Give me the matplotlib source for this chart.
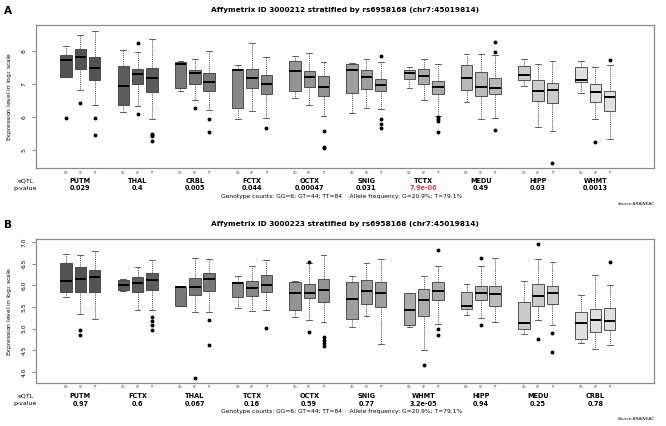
import matplotlib
matplotlib.use("Agg")
import matplotlib.pyplot as plt
from matplotlib.transforms import blended_transform_factory

W, H = 666, 426

genotypes = ["GG", "GT", "TT"]

# ---------------- Panel A data ----------------
tissues_a = ["PUTM", "THAL", "CRBL", "FCTX", "OCTX", "SNIG", "TCTX", "MEDU", "HIPP", "WHMT"]
pvals_a = ["0.029", "0.4", "0.005", "0.044", "0.00047", "0.031", "7.9e-06", "0.49", "0.03", "0.0013"]
whislo_a = [7.22, 6.84, 6.36, 6.15, 6.33, 5.93, 6.80, 6.51, 6.23, 5.94, 6.18, 5.98, 6.58, 6.38, 6.04,
            6.13, 6.29, 6.26, 6.88, 6.51, 6.02, 6.46, 5.93, 5.98, 6.95, 5.70, 5.58, 6.72, 5.94, 5.33]
q1_a = [7.22, 7.45, 7.12, 6.38, 7.00, 6.77, 6.88, 7.01, 6.80, 6.28, 6.89, 6.70, 6.78, 6.93, 6.63,
        6.72, 6.87, 6.78, 7.15, 7.01, 6.69, 6.81, 6.63, 6.70, 7.13, 6.50, 6.42, 7.06, 6.46, 6.20]
med_a = [7.75, 7.83, 7.50, 6.96, 7.30, 7.19, 7.63, 7.34, 7.07, 7.42, 7.19, 7.01, 7.40, 7.23, 6.92,
         7.44, 7.23, 6.99, 7.34, 7.25, 6.93, 7.20, 6.91, 6.89, 7.29, 6.79, 6.82, 7.14, 6.76, 6.62]
q3_a = [7.90, 8.08, 7.83, 7.56, 7.46, 7.50, 7.68, 7.44, 7.34, 7.45, 7.45, 7.27, 7.72, 7.41, 7.25,
        7.62, 7.44, 7.17, 7.44, 7.47, 7.11, 7.59, 7.36, 7.20, 7.54, 7.14, 7.05, 7.52, 7.00, 6.80]
whishi_a = [8.17, 8.49, 8.63, 8.05, 7.98, 8.36, 7.70, 7.76, 8.01, 7.58, 8.25, 7.83, 7.86, 7.94, 7.67,
            7.65, 7.78, 7.68, 7.52, 7.78, 7.60, 7.93, 7.92, 7.89, 7.77, 7.63, 7.71, 7.71, 7.52, 7.57]
fliers_a = [[5.96], [6.43], [5.98, 5.45],
            [], [8.25, 6.09], [5.49, 5.45, 5.42, 5.28],
            [], [6.28], [5.93, 5.56],
            [], [], [5.68],
            [], [], [5.59, 5.10, 5.06],
            [], [], [7.86, 5.94, 5.80, 5.68],
            [], [], [5.99, 5.94, 5.88, 5.54],
            [], [], [8.28, 7.98, 5.60],
            [], [], [4.60],
            [], [5.25], [7.75]]

# ---------------- Panel B data ----------------
tissues_b = ["PUTM", "FCTX", "THAL", "TCTX", "OCTX", "SNIG", "WHMT", "HIPP", "MEDU", "CRBL"]
pvals_b = ["0.97", "0.6", "0.067", "0.16", "0.59", "0.77", "3.2e-05", "0.94", "0.25", "0.78"]
whislo_b = [5.74, 5.33, 5.22, 5.88, 5.43, 5.42, 5.52, 5.39, 5.38, 5.48, 5.41, 5.44, 5.27, 5.21, 5.15,
            5.04, 5.29, 4.65, 5.03, 4.50, 5.11, 5.32, 5.25, 5.15, 4.88, 5.21, 5.08, 4.68, 4.52, 4.62]
q1_b = [5.84, 5.84, 5.85, 5.90, 5.85, 5.89, 5.52, 5.78, 5.86, 5.73, 5.75, 5.85, 5.42, 5.70, 5.62,
        5.22, 5.58, 5.50, 5.08, 5.30, 5.65, 5.45, 5.66, 5.52, 4.99, 5.53, 5.56, 4.75, 4.92, 4.96]
med_b = [6.11, 6.14, 6.20, 6.01, 6.05, 6.12, 5.96, 5.97, 6.15, 6.06, 5.95, 6.01, 5.83, 5.82, 5.90,
         5.68, 5.88, 5.82, 5.43, 5.65, 5.88, 5.52, 5.82, 5.81, 5.12, 5.75, 5.83, 5.13, 5.19, 5.18]
q3_b = [6.52, 6.42, 6.35, 6.12, 6.20, 6.29, 5.96, 6.17, 6.28, 6.07, 6.09, 6.25, 6.07, 6.04, 6.15,
        6.08, 6.12, 6.08, 5.82, 5.92, 6.08, 5.85, 5.99, 5.98, 5.62, 6.02, 5.98, 5.39, 5.46, 5.48]
whishi_b = [6.72, 6.69, 6.79, 6.15, 6.43, 6.58, 5.96, 6.63, 6.60, 6.21, 6.45, 6.58, 6.09, 6.52, 6.71,
            6.21, 6.51, 6.60, 5.82, 6.22, 6.44, 6.04, 6.44, 6.62, 6.09, 6.60, 6.55, 5.78, 6.23, 6.00]
fliers_b = [[], [4.98, 4.86], [],
            [], [], [5.28, 5.18, 5.08, 4.97],
            [], [3.87], [5.19, 4.62],
            [], [], [5.02],
            [], [6.55, 4.93], [4.80, 4.73, 4.66, 4.59],
            [], [], [],
            [], [4.15], [6.81, 4.99, 4.85],
            [], [6.63, 5.09], [],
            [], [6.95, 4.75], [4.91, 4.45],
            [], [], [6.54]]

yticks_a = [5, 6, 7, 8]
yticks_b = [4.0, 4.5, 5.0, 5.5, 6.0, 6.5, 7.0]
title_a = "Affymetrix ID 3000212 stratified by rs6958168 (chr7:45019814)"
title_b = "Affymetrix ID 3000223 stratified by rs6958168 (chr7:45019814)"
counts_text = "Genotype counts: GG=6; GT=44; TT=84    Allele frequency: G=20.9%; T=79.1%"

# style
gray_levels = [0.33, 0.36, 0.47, 0.53, 0.58, 0.62, 0.67, 0.73, 0.80, 0.88]

fig = plt.figure(figsize=(W / 100, H / 100), dpi=100)


def fx(x):
    return x / W


def fy(y):
    return 1 - y / H


def panel(ax, tissues, pvals, wlo, q1, med, q3, whi, fl, ylim, yticks, ytl,
          title, letter, ytop, ybot, red_idx=None):
    stats = []
    for k in range(len(med)):
        stats.append(dict(whislo=wlo[k], q1=q1[k], med=med[k], q3=q3[k],
                          whishi=whi[k], fliers=fl[k]))
    pos = [4 * i + j + 1 for i in range(len(tissues)) for j in range(3)]
    bp = ax.bxp(stats, positions=pos, widths=0.8, capwidths=0.4,
                patch_artist=True, manage_ticks=False,
                boxprops=dict(edgecolor="#3a3a3a", linewidth=0.6),
                medianprops=dict(color="black", linewidth=1.4),
                whiskerprops=dict(color="#555555", linewidth=0.6, linestyle=(0, (1.5, 1.0))),
                capprops=dict(color="#444444", linewidth=0.6),
                flierprops=dict(marker="o", markerfacecolor="black",
                                markeredgecolor="black", markersize=1.8, linestyle="none"))
    for k, b in enumerate(bp["boxes"]):
        g = gray_levels[k // 3]
        b.set_facecolor((g, g, g))
    ax.set_xlim(-1.1, 42.1)
    ax.set_ylim(*ylim)
    ax.set_xticks([])
    ax.set_yticks(yticks)
    ax.set_yticklabels(ytl, rotation=90, va="center", fontsize=4.3)
    ax.tick_params(axis="y", length=3, width=0.5, color="#555555", pad=4)
    for s in ax.spines.values():
        s.set_color("#8a8a8a")
        s.set_linewidth(0.9)
    ax.set_ylabel("Expression level in log$_2$ scale", fontsize=4.3, labelpad=5)

    tr = blended_transform_factory(ax.transData, fig.transFigure)
    for k, p in enumerate(pos):
        ax.text(p, fy(ybot + 4.5), genotypes[k % 3], transform=tr, fontsize=2.2,
                ha="center", va="center", color="#333333")
    for i, t in enumerate(tissues):
        c = 4 * i + 2
        ax.text(c, fy(ybot + 13), t, transform=tr, fontsize=4.7, fontweight="bold",
                ha="center", va="center")
        col = "#e0393e" if i == red_idx else "black"
        ax.text(c, fy(ybot + 20.5), pvals[i], transform=tr, fontsize=4.7,
                fontweight="bold", ha="center", va="center", color=col)
    fig.text(fx(26), fy(ybot + 13), "eQTL", fontsize=4.5, ha="center", va="center")
    fig.text(fx(25), fy(ybot + 20.5), "p-value", fontsize=4.5, ha="center", va="center")
    fig.text(fx(342), fy(ybot + 28.5), counts_text, fontsize=4.3, ha="center", va="center")
    fig.text(fx(655), fy(ybot + 36), "Source:BRAINEAC", fontsize=3.0, style="italic",
             ha="right", va="center")
    fig.text(fx(345), fy(ytop - 15), title, fontsize=5.3, fontweight="bold",
             ha="center", va="center")
    fig.text(fx(8), fy(ytop - 14), letter, fontsize=7.5, fontweight="bold",
             ha="center", va="center")


axA = fig.add_axes([fx(36), fy(168), 618 / W, 143 / H])
panel(axA, tissues_a, pvals_a, whislo_a, q1_a, med_a, q3_a, whishi_a, fliers_a,
      (4.455, 8.80), yticks_a, [str(v) for v in yticks_a], title_a, "A", 25, 168, red_idx=6)

axB = fig.add_axes([fx(36), fy(383), 618 / W, 144 / H])
panel(axB, tissues_b, pvals_b, whislo_b, q1_b, med_b, q3_b, whishi_b, fliers_b,
      (3.745, 7.07), yticks_b, ["%.1f" % v for v in yticks_b], title_b, "B", 239, 383)

fig.savefig("out.png", dpi=100, facecolor="white")
